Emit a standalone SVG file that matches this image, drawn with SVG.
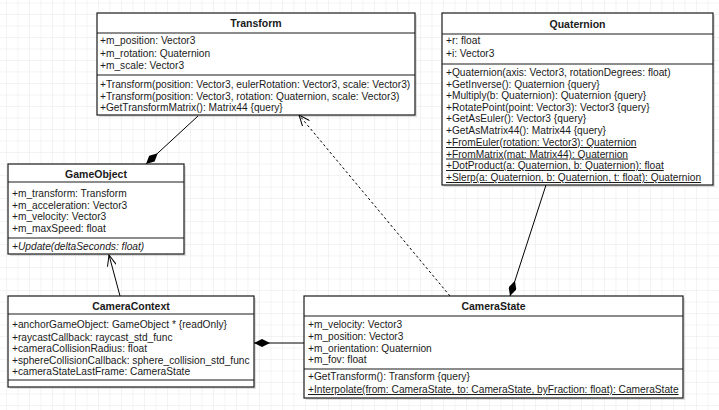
<svg xmlns="http://www.w3.org/2000/svg" width="719" height="410" viewBox="0 0 719 410">
<style>
.box{fill:#ffffff;stroke:#1a1a1a;stroke-width:1.2}
.shadow{fill:#000;opacity:0.12}
.sep{stroke:#1a1a1a;stroke-width:1.2}
text{font-family:"Liberation Sans",Arial,sans-serif;font-size:10.2px;fill:#1a1a1a}
.title{font-weight:bold;text-anchor:middle;font-size:10.5px}
.static{text-decoration:underline}
.abstract{font-style:italic}
.conn{stroke:#000;stroke-width:1;fill:none}
.dash{stroke-dasharray:2.5 2.5}
</style>
<defs>
<pattern id="grid" x="6" y="2.5" width="11.5" height="11.5" patternUnits="userSpaceOnUse">
<path d="M0,0 H11.5 M0,0 V11.5" stroke="#e8e8e8" stroke-width="1" fill="none"/>
</pattern>
<marker id="diamond" viewBox="0 0 16 8" refX="16" refY="4" markerWidth="16" markerHeight="8" markerUnits="userSpaceOnUse" orient="auto">
<path d="M0,4 L8,0 L16,4 L8,8 z" fill="#000"/>
</marker>
<marker id="open" viewBox="0 0 12 10" refX="11" refY="5" markerWidth="12" markerHeight="10" markerUnits="userSpaceOnUse" orient="auto">
<path d="M0,0.5 L11,5 L0,9.5" fill="none" stroke="#000" stroke-width="1"/>
</marker>
</defs>
<rect width="719" height="410" fill="#ffffff"/>
<rect width="719" height="410" fill="url(#grid)"/>

<g id="connectors">
<path class="conn" d="M198,116 L146,164" marker-end="url(#diamond)"/>
<path class="conn dash" d="M450,296 L299,115" marker-end="url(#open)"/>
<path class="conn" d="M546,185 L510,296" marker-end="url(#diamond)"/>
<path class="conn" d="M120,296 L109,255" marker-end="url(#open)"/>
<path class="conn" d="M304,343 L254,343" marker-end="url(#diamond)"/>
</g>

<g id="Transform">
<rect class="shadow" x="99" y="15" width="318" height="102"/>
<rect class="box" x="97" y="13" width="318" height="102"/>
<line class="sep" x1="97" y1="33" x2="415" y2="33"/>
<line class="sep" x1="97" y1="75" x2="415" y2="75"/>
<text class="title" x="256" y="27">Transform</text>
<text x="100" y="44">+m_position: Vector3</text>
<text x="100" y="57">+m_rotation: Quaternion</text>
<text x="100" y="69">+m_scale: Vector3</text>
<text x="100" y="88">+Transform(position: Vector3, eulerRotation: Vector3, scale: Vector3)</text>
<text x="100" y="99.5">+Transform(position: Vector3, rotation: Quaternion, scale: Vector3)</text>
<text x="100" y="111">+GetTransformMatrix(): Matrix44 {query}</text>
</g>

<g id="Quaternion">
<rect class="shadow" x="444" y="15" width="271" height="172"/>
<rect class="box" x="442" y="13" width="271" height="172"/>
<line class="sep" x1="442" y1="34" x2="713" y2="34"/>
<line class="sep" x1="442" y1="64" x2="713" y2="64"/>
<text class="title" x="577.5" y="27.5">Quaternion</text>
<text x="446" y="44">+r: float</text>
<text x="446" y="57">+i: Vector3</text>
<text x="446" y="76">+Quaternion(axis: Vector3, rotationDegrees: float)</text>
<text x="446" y="87.5">+GetInverse(): Quaternion {query}</text>
<text x="446" y="99">+Multiply(b: Quaternion): Quaternion {query}</text>
<text x="446" y="110.5">+RotatePoint(point: Vector3): Vector3 {query}</text>
<text x="446" y="122">+GetAsEuler(): Vector3 {query}</text>
<text x="446" y="134">+GetAsMatrix44(): Matrix44 {query}</text>
<text class="static" x="446" y="146">+FromEuler(rotation: Vector3): Quaternion</text>
<text class="static" x="446" y="157.5">+FromMatrix(mat: Matrix44): Quaternion</text>
<text class="static" x="446" y="169">+DotProduct(a: Quaternion, b: Quaternion): float</text>
<text class="static" x="446" y="181">+Slerp(a: Quaternion, b: Quaternion, t: float): Quaternion</text>
</g>

<g id="GameObject">
<rect class="shadow" x="10" y="166" width="176" height="90"/>
<rect class="box" x="8" y="164" width="176" height="90"/>
<line class="sep" x1="8" y1="182" x2="184" y2="182"/>
<line class="sep" x1="8" y1="238" x2="184" y2="238"/>
<text class="title" x="96" y="178">GameObject</text>
<text x="12" y="197">+m_transform: Transform</text>
<text x="12" y="208.5">+m_acceleration: Vector3</text>
<text x="12" y="220">+m_velocity: Vector3</text>
<text x="12" y="232">+m_maxSpeed: float</text>
<text class="abstract" x="12" y="250">+Update(deltaSeconds: float)</text>
</g>

<g id="CameraContext">
<rect class="shadow" x="10" y="298" width="246" height="91"/>
<rect class="box" x="8" y="296" width="246" height="91"/>
<line class="sep" x1="8" y1="314" x2="254" y2="314"/>
<line class="sep" x1="8" y1="380" x2="254" y2="380"/>
<text class="title" x="131" y="310">CameraContext</text>
<text x="12" y="328">+anchorGameObject: GameObject * {readOnly}</text>
<text x="12" y="340.5">+raycastCallback: raycast_std_func</text>
<text x="12" y="352">+cameraCollisionRadius: float</text>
<text x="12" y="363.5">+sphereCollisionCallback: sphere_collision_std_func</text>
<text x="12" y="375">+cameraStateLastFrame: CameraState</text>
</g>

<g id="CameraState">
<rect class="shadow" x="306" y="298" width="379" height="102"/>
<rect class="box" x="304" y="296" width="379" height="102"/>
<line class="sep" x1="304" y1="316" x2="683" y2="316"/>
<line class="sep" x1="304" y1="369" x2="683" y2="369"/>
<text class="title" x="493.5" y="310">CameraState</text>
<text x="308" y="328">+m_velocity: Vector3</text>
<text x="308" y="340">+m_position: Vector3</text>
<text x="308" y="351.5">+m_orientation: Quaternion</text>
<text x="308" y="363">+m_fov: float</text>
<text x="308" y="380">+GetTransform(): Transform {query}</text>
<text class="static" x="308" y="393">+Interpolate(from: CameraState, to: CameraState, byFraction: float): CameraState</text>
</g>
</svg>
